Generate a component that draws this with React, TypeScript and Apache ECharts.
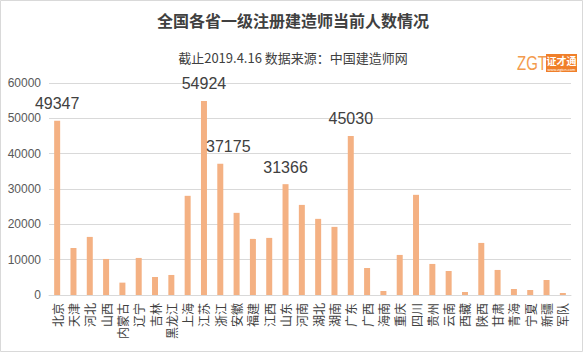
import React, { useEffect, useRef } from "react";
import * as echarts from "echarts";

const categories = ["北京","天津","河北","山西","内蒙古","辽宁","吉林","黑龙江","上海","江苏","浙江","安徽","福建","江西","山东","河南","湖北","湖南","广东","广西","海南","重庆","四川","贵州","云南","西藏","陕西","甘肃","青海","宁夏","新疆","军队"];
const values = [49347,13300,16440,10200,3500,10490,5100,5670,28070,54924,37175,23250,15880,16160,31366,25500,21550,19280,45030,7650,1130,11340,28350,8790,6800,850,14740,7090,1700,1420,4250,570];
const labeledValues = [49347,54924,37175,31366,45030];
const shiftedLabelCategories = ["浙江"];
const yTicks = { min: 0, max: 60000, interval: 10000 };
const titleText = "全国各省一级注册建造师当前人数情况";
const subtitleText = "截止2019.4.16 数据来源：中国建造师网";

export default function App() {
  const ref = useRef<HTMLDivElement>(null);
  useEffect(() => {
    document.body.style.margin = "0";
    const chart = echarts.init(ref.current!, null, { renderer: "svg" });
    const font = "'Noto Sans CJK SC', 'Noto Sans', sans-serif";
    const data = values.map((v, i) =>
      shiftedLabelCategories.includes(categories[i])
        ? { value: v, label: { offset: [8, 0] } }
        : v
    );
    chart.setOption({
      animation: false,
      backgroundColor: "#ffffff",
      grid: { left: 49, right: 15, top: 83, bottom: 57, containLabel: false },
      xAxis: {
        type: "category",
        data: categories,
        axisTick: { show: false },
        axisLine: { lineStyle: { color: "#d9d9d9", width: 1 } },
        axisLabel: {
          interval: 0,
          rotate: 90,
          margin: 8,
          color: "#404040",
          fontSize: 12,
          fontFamily: font,
        },
      },
      yAxis: {
        type: "value",
        min: yTicks.min,
        max: yTicks.max,
        interval: yTicks.interval,
        axisLine: { show: false },
        axisTick: { show: false },
        splitLine: { lineStyle: { color: "#d9d9d9", width: 1 } },
        axisLabel: {
          color: "#595959",
          fontSize: 12,
          margin: 8,
          fontFamily: "'Liberation Sans', Arial, sans-serif",
          formatter: (v: number) => String(v),
        },
      },
      series: [
        {
          type: "bar",
          data,
          barWidth: 6,
          itemStyle: { color: "#F4B183" },
          label: {
            show: true,
            position: "top",
            distance: 9,
            color: "#404040",
            fontSize: 16,
            fontFamily: "'Liberation Sans', Arial, sans-serif",
            formatter: (p: any) => (labeledValues.includes(p.value) ? String(p.value) : ""),
          },
        },
      ],
      graphic: [
        {
          type: "rect",
          shape: { x: 0.5, y: 0.5, width: 582, height: 351 },
          style: { fill: "none", stroke: "#d9d9d9", lineWidth: 1 },
          silent: true,
        },
        {
          type: "text",
          x: 293,
          y: 20,
          style: {
            text: titleText,
            fill: "#404040",
            font: `bold 16px ${font}`,
            textAlign: "center",
            textVerticalAlign: "middle",
          },
        },
        {
          type: "text",
          x: 293,
          y: 57,
          style: {
            text: subtitleText,
            fill: "#404040",
            font: `13px ${font}`,
            textAlign: "center",
            textVerticalAlign: "middle",
          },
        },
        {
          type: "group",
          x: 517,
          y: 53,
          children: [
            {
              type: "text",
              x: 0,
              y: 10,
              scaleX: 0.75,
              style: {
                text: "ZGT",
                fill: "#F39B4E",
                font: "20px 'Liberation Sans', Arial, sans-serif",
                textVerticalAlign: "middle",
              },
            },
            {
              type: "rect",
              shape: { x: 29, y: 1, width: 31, height: 18 },
              style: { fill: "#F07F2A" },
            },
            {
              type: "text",
              x: 44.5,
              y: 7,
              style: {
                text: "证才通",
                fill: "#ffffff",
                font: `bold 10px ${font}`,
                textAlign: "center",
                textVerticalAlign: "middle",
              },
            },
            {
              type: "text",
              x: 44.5,
              y: 16,
              style: {
                text: "www.zgtcn.com",
                fill: "#ffffff",
                font: `4px sans-serif`,
                textAlign: "center",
                textVerticalAlign: "middle",
              },
            },
          ],
        },
      ],
    });
    return () => chart.dispose();
  }, []);
  return <div ref={ref} style={{ width: 586, height: 352, position: "fixed", left: 0, top: 0 }} />;
}
